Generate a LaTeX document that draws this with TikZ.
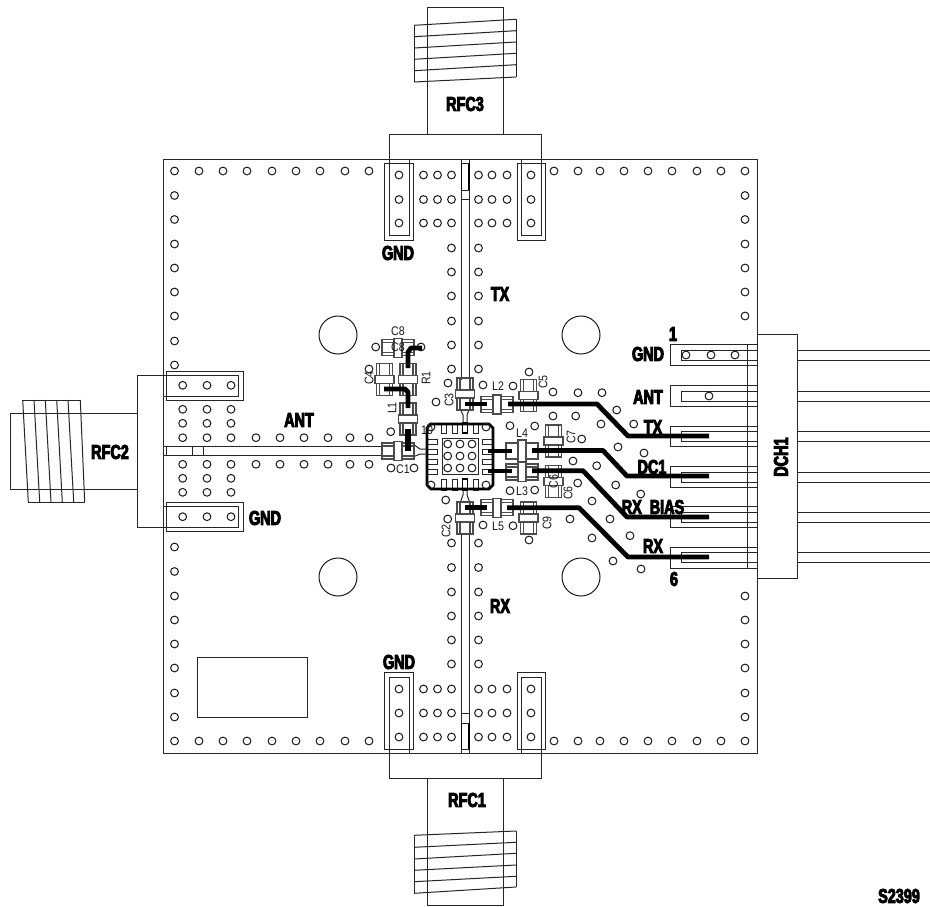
\documentclass[tikz,border=0pt]{standalone}
\usepackage{fontspec}
\newfontfamily\labf[UprightFont=* Bold,FakeStretch=.72]{Liberation Sans}
\newfontfamily\smallf[FakeStretch=.85]{Liberation Sans}
\definecolor{ln}{gray}{0.15}
\definecolor{cp}{gray}{0.3}
\tikzset{
  lab/.style={font=\labf\fontsize{20}{20}\selectfont,inner sep=0pt,text=black,
    execute at begin node={\special{pdf:code 2 Tr 0.9 w}},
    execute at end node={\special{pdf:code 0 Tr 1 w}}},
  tiny/.style={font=\smallf\fontsize{12.5}{12.5}\selectfont,inner sep=0pt,text=black!90},
  outl/.style={draw=ln,line width=1pt},
  via/.style={draw=black!90,line width=1pt},
  thick trace/.style={draw=black,line width=4.8pt,line join=round},
  part/.style={draw=cp,line width=1.1pt},
}
\newcommand\compo[3]{\begin{scope}[shift={(#1,#2)},rotate=#3]
  \draw[part] (-8,-16) rectangle (8,16);
  \draw[part] (-5,-16) -- (-5,16) (5,-16) -- (5,16);
  \draw[part,fill=white] (-9.5,-4) rectangle (9.5,4);
  \end{scope}}
\begin{document}
\begin{tikzpicture}[x=1pt,y=-1pt]
\useasboundingbox (0,0) rectangle (930,906);
\fill[white] (0,0) rectangle (930,906);
% board
\draw[outl] (163,159) rectangle (757,753);
% perimeter vias
\foreach \y in {171,195.5,219.5,244,268,292,316,341,365,547,571.5,596,620,644,668,693,717,741} \draw[via] (174.5,\y) circle (3.9);
\foreach \x in {199,223,247,272,296,320,345,369} {\draw[via] (\x,171) circle (3.9); \draw[via] (\x,741) circle (3.9);}
\foreach \x in {554,578,600,624,648,672,697,721,745} {\draw[via] (\x,171) circle (3.9); \draw[via] (\x,741) circle (3.9);}
\foreach \y in {195.5,219.5,244,268,292,316,596,620,644,668,693,717} \draw[via] (745,\y) circle (3.9);
% central columns
\foreach \y in {175,199.5,223,248,272,296,321,345,369,543,567.5,592,616,640,664,689,713,737} {\draw[via] (451.5,\y) circle (3.9); \draw[via] (478.5,\y) circle (3.9);}
\foreach \y in {175,199.5,223,689,713,737} \foreach \x in {423.5,437.5,492,507} \draw[via] (\x,\y) circle (3.9);
\foreach \y in {175,199.5,223,689,713,737} \foreach \x in {399,531} \draw[via] (\x,\y) circle (3.9);
% mounting holes
\foreach \a/\b in {338/335,581/335,338/577,581/577} \draw[line width=1pt,draw=black!90] (\a,\b) circle (19);
% label rectangle
\draw[outl] (197,657) rectangle (307,717);
% RFC3 top
\draw[outl] (427,134) -- (427,7) -- (503,7) -- (503,134);
\draw[outl] (389,159) -- (389,134) -- (541,134) -- (541,159);
\draw[outl] (414,25.3) -- (414,82) (516,19.3) -- (516,77);
\foreach \a/\b in {25.3/19.3,36.7/30.7,48/42,59.3/53.3,70.7/64.7,82/77} \draw[outl] (414,\a) -- (516,\b);
\foreach \x in {0,132} {
  \draw[outl] (384+\x+1*\x/132,163) -- (384+\x+1*\x/132,240) -- (413+\x,240) -- (413+\x,163) -- cycle;
  \draw[outl] (389+\x,159) -- (389+\x,235) -- (409+\x,235) -- (409+\x,159);
}
% RFC1 bottom
\draw[outl] (427,778) -- (427,905) -- (503,905) -- (503,778);
\draw[outl] (389,753) -- (389,778) -- (541,778) -- (541,753);
\draw[outl] (414,835.3) -- (414,893.3) (516,831) -- (516,887);
\foreach \a/\b in {835.3/831,847.3/842.3,859/853.3,870.3/865,881.7/876.3,893.3/887} \draw[outl] (414,\a) -- (516,\b);
\foreach \x in {0,132} {
  \draw[outl] (384+\x+1*\x/132,749) -- (384+\x+1*\x/132,672) -- (413+\x,672) -- (413+\x,749) -- cycle;
  \draw[outl] (389+\x,753) -- (389+\x,677) -- (409+\x,677) -- (409+\x,753);
}
% vertical RF traces
\draw[outl] (461,159) -- (461,380) (469.5,159) -- (469.5,380);
\draw[outl] (461,533) -- (461,753) (469.5,533) -- (469.5,753);
\draw[outl] (461,163) rectangle (469.5,199);
\draw[outl] (461,190) -- (469.5,190);
\draw[draw=black,line width=1.8pt] (461.5,163) -- (461.5,190) (469,163) -- (469,190);
\draw[outl] (461,713) rectangle (469.5,749);
\draw[outl] (461,723) -- (469.5,723);
\draw[draw=black,line width=1.8pt] (461.5,723) -- (461.5,749) (469,723) -- (469,749);
% RFC2 left
\draw[outl] (137,413) -- (10.7,413) -- (10.7,489) -- (137,489);
\draw[outl] (163,375) -- (137,375) -- (137,527) -- (163,527);
\draw[outl] (22.7,400) -- (80.3,400) (28.3,502) -- (84.7,502);
\foreach \a/\b in {22.7/28.3,34/39.7,45.3/51,56.7/62.3,68/73.7,80.3/84.7} \draw[outl] (\a,400) -- (\b,502);
\draw[outl] (166.3,371) rectangle (243.3,400);
\draw[outl] (163,375) -- (238.7,375) -- (238.7,396.7) -- (163,396.7);
\draw[outl] (166.3,502.7) rectangle (243.3,531);
\draw[outl] (163,506) -- (238.7,506) -- (238.7,527) -- (163,527);
\foreach \x in {182.7,207,231} \foreach \y in {385.3,409.3,423.3,437.7,464.3,478.3,492.3,516.7} \draw[via] (\x,\y) circle (3.9);
\foreach \x in {256,280,304,328,350,369} {\draw[via] (\x,437.7) circle (3.9); \draw[via] (\x,464.3) circle (3.9);}
% horizontal RF trace
\draw[outl] (163,446.7) -- (384,446.7) (163,455.3) -- (384,455.3);
\draw[outl] (166,446.7) rectangle (203,455.3);
\draw[outl] (192,446.7) -- (192,455.3);
% DCH1
\draw[outl] (757,334) rectangle (797,578);
\draw[outl] (747,344) -- (747,568);
\foreach \oa/\ob/\ia/\ib in {344/365/350/360,385/406/391/401,426/446/431/441,466/487/472/482,506/527/512/522,547/568/552/562} {
  \draw[outl] (747,\oa) -- (670,\oa) -- (670,\ob) -- (757,\ob);
  \draw[outl] (757,\oa) -- (747,\oa);
  \draw[outl] (757,\ia) -- (681,\ia) -- (681,\ib) -- (757,\ib);
  \draw[outl] (797,\ia) -- (930,\ia) (797,\ib) -- (930,\ib);
}
\foreach \a/\b in {686/355,711/355,735/355,709/396} \draw[via] (\a,\b) circle (3.9);
% scattered vias
\foreach \a/\b in {375.7/347,421/347,369/369,390.7/431.7,391/468,414/468,448/383,436/402,483/385,513/386,529/372,553/392,578/392.7,602/392.7,616.7/410,633.7/424,553/416,575.7/416,601/424,534.7/426,510/425.7,581.7/439,618/447,644/453,573/461,596.7/465.7,615.7/485,640.7/494,577.7/483,534.7/490,510/490.7,592/501,610/519,630/535.7,570/519,592/538,613/561,641/569,445.7/500,447.7/519,483/525,513/525.7,529/540}
  \draw[via] (\a,\b) circle (3.9);
% chip
\foreach \x in {444.3,454.5,476} {\draw[outl] (\x-2.5,423) rectangle (\x+2.5,433); \draw[outl] (\x-2.5,479) rectangle (\x+2.5,490);}
\draw[draw=black,line width=1.7pt] (462.5,423) rectangle (467.5,433) (462.5,479) rectangle (467.5,490);
\foreach \y in {441.7,451.7,461.7,471.7} {\draw[outl] (427,\y-2.5) rectangle (437,\y+2.5); \draw[outl] (482,\y-2.5) rectangle (493,\y+2.5);}
\draw[draw=black,line width=2.8pt] (431,424) -- (489,424) -- (493,428) -- (493,485) -- (489,489) -- (431,489) -- (427,485) -- (427,428) -- cycle;
\draw[outl] (442,438) rectangle (478,474);
\foreach \x in {447.7,460,472} \foreach \y in {444,456,468} \draw[via] (\x,\y) circle (3.9);
\foreach \a/\b in {431/427,486/427,431/485,486/485} \draw[via] (\a,\b) circle (3.9);
% funnels
\draw[outl] (460,408) -- (463,415) -- (463,423) (470,408) -- (467,415) -- (467,423);
\draw[outl] (463,490) -- (463,495) -- (460,503) (467,490) -- (467,495) -- (470,503);
\draw[outl] (413,444) -- (420,449) -- (427,449) (413,457) -- (420,454) -- (427,454);
% components
\compo{398}{347.7}{90}
\compo{384.5}{379.5}{0}
\compo{408}{379.5}{0}
\compo{408}{419}{0}
\compo{398}{451}{90}
\compo{465}{394}{0}
\compo{497}{404.5}{90}
\compo{528.5}{395.5}{0}
\compo{522}{472}{90}
\compo{553.5}{481.5}{0}
\compo{497}{507.7}{90}
\compo{465}{518}{0}
\compo{528.5}{518}{0}
\compo{553.5}{441}{0}
% L4
\draw[part] (506,443) rectangle (538,459);
\draw[part,fill=white] (518,440) rectangle (526,462);
% thick traces
\draw[thick trace] (408,368) -- (408,352) -- (411,348) -- (422,348);
\draw[thick trace] (384,389) -- (405,389) -- (408,392) -- (408,408);
\draw[thick trace,line width=6pt] (408,429) -- (408,451);
\draw[thick trace] (465,404) -- (487,404);
\draw[thick trace] (508,404) -- (597,404) -- (628,436) -- (709,436);
\draw[thick trace] (488,451) -- (512,451);
\draw[thick trace] (532,450.5) -- (603,450.5) -- (627,476) -- (709,476);
\draw[thick trace] (488,471) -- (512,471);
\draw[thick trace] (532,470.7) -- (583,470.7) -- (627,517) -- (709,517);
\draw[thick trace] (465,507.7) -- (487,507.7);
\draw[thick trace] (507,507.7) -- (579,507.7) -- (628,557) -- (709,557);
% big labels
\node[lab] (gndTL) at (398,253) {GND};
\node[lab] (rfc3) at (465,104) {RFC3};
\node[lab] (txA) at (500,294) {TX};
\node[lab] (one) at (673,334) {1};
\node[lab] (gndR) at (648,354) {GND};
\node[lab] (antR) at (648,397) {ANT};
\node[lab] (txR) at (653,427) {TX};
\node[lab] (dc1) at (652,467) {DC1};
\node[lab] (rxb) at (653,507) {RX\ \ BIAS};
\node[lab] (rxR) at (653,546) {RX};
\node[lab] (six) at (674,579) {6};
\node[lab,rotate=90] (dch1) at (781,457) {DCH1};
\node[lab] (rfc2) at (110,452) {RFC2};
\node[lab] (gndL) at (265,518) {GND};
\node[lab] (antL) at (299,420) {ANT};
\node[lab] (rxA) at (500,606) {RX};
\node[lab] (gndB) at (399,662) {GND};
\node[lab] (rfc1) at (467,800) {RFC1};
\node[lab] (s2399) at (899,896) {S2399};
% small labels
\node[tiny] (tC8) at (398,331) {C8};
\node[tiny] (tC8b) at (398,347.5) {C8};
\node[tiny,rotate=90] (tC4) at (369,378) {C4};
\node[tiny,rotate=90] (tR1) at (426,378) {R1};
\node[tiny,rotate=90] (tL1) at (392,408) {L1};
\node[tiny] (t10) at (427,430) {10};
\node[tiny] (tC1) at (403,469) {C1};
\node[tiny,rotate=90] (tC3) at (449,400) {C3};
\node[tiny] (tL2) at (498,386) {L2};
\node[tiny,rotate=90] (tC5) at (543,382) {C5};
\node[tiny] (tL4) at (522,433) {L4};
\node[tiny,rotate=90] (tC7) at (571,437) {C7};
\node[tiny] (tL3) at (522,491) {L3};
\node[tiny,rotate=90] (tC6) at (568,493) {C6};
\node[tiny,rotate=90] (tC6b) at (553.5,481.5) {C6};
\node[tiny] (tL5) at (498,526) {L5};
\node[tiny,rotate=90] (tC2) at (446,531) {C2};
\node[tiny,rotate=90] (tC9) at (547,523) {C9};
\end{tikzpicture}
\end{document}
